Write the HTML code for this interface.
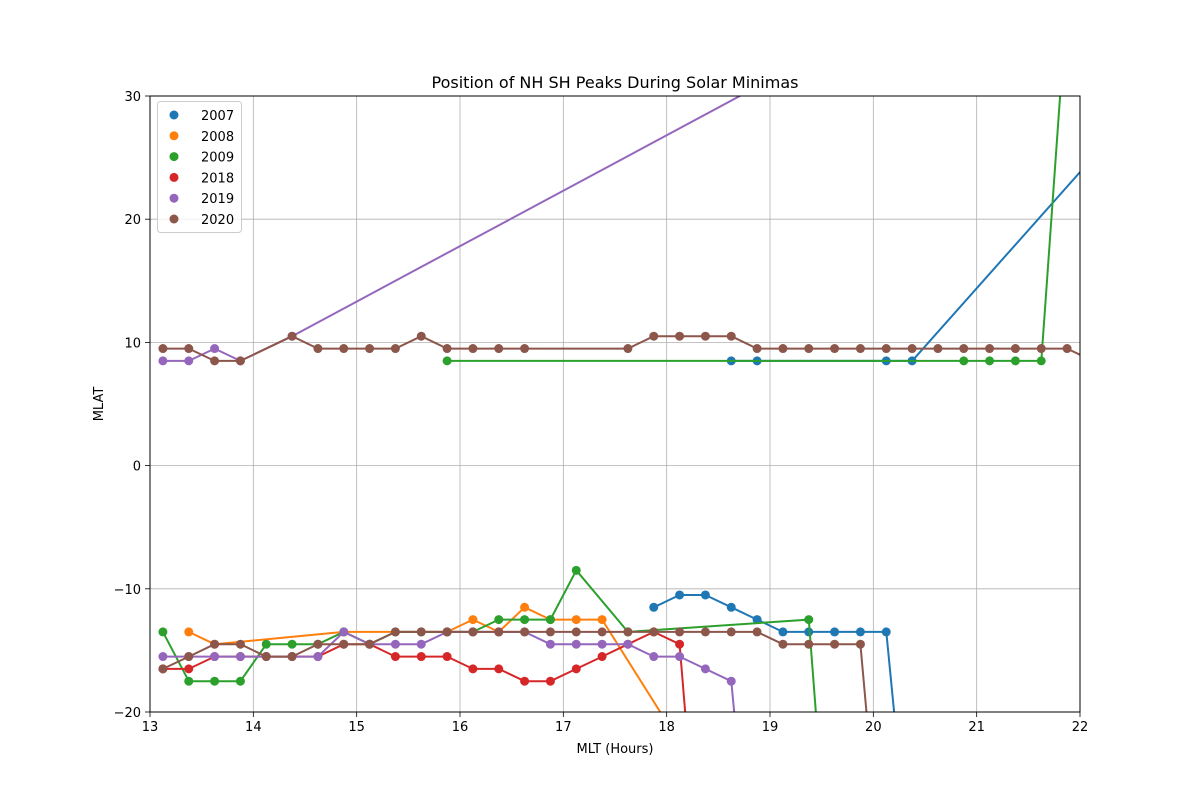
<!DOCTYPE html>
<html><head><meta charset="utf-8"><style>
html,body{margin:0;padding:0;background:#fff;overflow:hidden;width:1200px;height:800px}
svg{display:block;position:absolute;left:0;top:0}
svg text{font-family:"DejaVu Sans","Liberation Sans",sans-serif}
</style></head><body>
<svg id="chart" width="1200" height="800" xmlns="http://www.w3.org/2000/svg">
<defs><clipPath id="clip"><rect x="150" y="96" width="930" height="616"/></clipPath></defs>
<rect width="1200" height="800" fill="#fff"/>
<g id="grid"></g>
<g id="series" clip-path="url(#clip)"></g>
<rect x="150" y="96" width="930" height="616" fill="none" stroke="#000" stroke-width="1"/>
<g id="ticks"></g>
<text x="615" y="88" text-anchor="middle" font-size="16">Position of NH SH Peaks During Solar Minimas</text>
<text x="615" y="753" text-anchor="middle" font-size="13">MLT (Hours)</text>
<text x="103" y="404" text-anchor="middle" font-size="13" transform="rotate(-90 103 404)">MLAT</text>
<g id="legend"></g>
</svg>
<script>
const years = ["2007","2008","2009","2018","2019","2020"];
const colors = ["#1f77b4","#ff7f0e","#2ca02c","#d62728","#9467bd","#8c564b"];
const xTicks = [13,14,15,16,17,18,19,20,21,22];
const yTicks = [-20,-10,0,10,20,30];
// index i -> MLT = 13.125 + 0.25*i
const nh2007_i = [22,23,28,29,36];
const nh2007_v = [8.5,8.5,8.5,8.5,25];
const sh2007_i = [19,20,21,22,23,24,25,26,27,28,29];
const sh2007_v = [-11.5,-10.5,-10.5,-11.5,-12.5,-13.5,-13.5,-13.5,-13.5,-13.5,-35];
const nh2008_i = [];
const nh2008_v = [];
const sh2008_i = [1,2,7,11,12,13,14,15,16,17,20];
const sh2008_v = [-13.5,-14.5,-13.5,-13.5,-12.5,-13.5,-11.5,-12.5,-12.5,-12.5,-22.5];
const nh2009_i = [11,31,32,33,34,35];
const nh2009_v = [8.5,8.5,8.5,8.5,8.5,38];
const sh2009_i = [0,1,2,3,4,5,6,7,8,9,10,11,12,13,14,15,16,18,25,26];
const sh2009_v = [-13.5,-17.5,-17.5,-17.5,-14.5,-14.5,-14.5,-13.5,-14.5,-13.5,-13.5,-13.5,-13.5,-12.5,-12.5,-12.5,-8.5,-13.5,-12.5,-40];
const nh2018_i = [];
const nh2018_v = [];
const sh2018_i = [0,1,2,3,4,5,6,7,8,9,10,11,12,13,14,15,16,17,18,19,20,21];
const sh2018_v = [-16.5,-16.5,-15.5,-15.5,-15.5,-15.5,-15.5,-14.5,-14.5,-15.5,-15.5,-15.5,-16.5,-16.5,-17.5,-17.5,-16.5,-15.5,-14.5,-13.5,-14.5,-40];
const nh2019_i = [0,1,2,3,5,25];
const nh2019_v = [8.5,8.5,9.5,8.5,10.5,33];
const sh2019_i = [0,1,2,3,4,5,6,7,8,9,10,11,12,13,14,15,16,17,18,19,20,21,22,23];
const sh2019_v = [-15.5,-15.5,-15.5,-15.5,-15.5,-15.5,-15.5,-13.5,-14.5,-14.5,-14.5,-13.5,-13.5,-13.5,-13.5,-14.5,-14.5,-14.5,-14.5,-15.5,-15.5,-16.5,-17.5,-40];
const nh2020_i = [0,1,2,3,5,6,7,8,9,10,11,12,13,14,18,19,20,21,22,23,24,25,26,27,28,29,30,31,32,33,34,35,36];
const nh2020_v = [9.5,9.5,8.5,8.5,10.5,9.5,9.5,9.5,9.5,10.5,9.5,9.5,9.5,9.5,9.5,10.5,10.5,10.5,10.5,9.5,9.5,9.5,9.5,9.5,9.5,9.5,9.5,9.5,9.5,9.5,9.5,9.5,8.5];
const sh2020_i = [0,1,2,3,4,5,6,7,8,9,10,11,12,13,14,15,16,17,18,19,20,21,22,23,24,25,26,27,28];
const sh2020_v = [-16.5,-15.5,-14.5,-14.5,-15.5,-15.5,-14.5,-14.5,-14.5,-13.5,-13.5,-13.5,-13.5,-13.5,-13.5,-13.5,-13.5,-13.5,-13.5,-13.5,-13.5,-13.5,-13.5,-13.5,-14.5,-14.5,-14.5,-14.5,-38];

const NS="http://www.w3.org/2000/svg";
const X0=150,X1=1080,Y0=712,Y1=96;
function xs(v){return X0+(v-13)/(22-13)*(X1-X0);}
function ys(v){return Y0-(v+20)/(30+20)*(Y0-Y1);}
function mlt(i){return 13.125+0.25*i;}
function mk(tag,attrs,parent){const e=document.createElementNS(NS,tag);for(const k in attrs)e.setAttribute(k,attrs[k]);parent.appendChild(e);return e;}
const grid=document.getElementById('grid'),ticks=document.getElementById('ticks');
xTicks.forEach(t=>{
  const g=mk('line',{x1:xs(t),x2:xs(t),y1:Y1,y2:Y0,stroke:'#b0b0b0','stroke-width':0.8},grid);
  
  
  mk('line',{x1:xs(t),x2:xs(t),y1:Y0,y2:Y0+5,stroke:'#000','stroke-width':0.8},ticks);
  const tx=mk('text',{x:xs(t),y:Y0+19,'text-anchor':'middle','font-size':13},ticks);
  tx.textContent=t;
  
  
});
yTicks.forEach(t=>{
  const g=mk('line',{x1:X0,x2:X1,y1:ys(t),y2:ys(t),stroke:'#b0b0b0','stroke-width':0.8},grid);
  
  
  mk('line',{x1:X0-5,x2:X0,y1:ys(t),y2:ys(t),stroke:'#000','stroke-width':0.8},ticks);
  const tx=mk('text',{x:X0-9,y:ys(t)+5,'text-anchor':'end','font-size':13},ticks);
  tx.textContent=t===0?'0':(t<0?'\u2212'+(-t):t);
  
  
});
const seriesSets=[
 [nh2007_i,nh2007_v,sh2007_i,sh2007_v],[nh2008_i,nh2008_v,sh2008_i,sh2008_v],
 [nh2009_i,nh2009_v,sh2009_i,sh2009_v],[nh2018_i,nh2018_v,sh2018_i,sh2018_v],
 [nh2019_i,nh2019_v,sh2019_i,sh2019_v],[nh2020_i,nh2020_v,sh2020_i,sh2020_v]];
const sg=document.getElementById('series');
seriesSets.forEach((s,k)=>{
  const c=colors[k];
  [[s[0],s[1],'nh'],[s[2],s[3],'sh']].forEach(([idx,vals,h])=>{
    if(!idx.length)return;
    const pts=idx.map((ii,j)=>xs(mlt(ii)).toFixed(1)+','+ys(vals[j]).toFixed(1)).join(' ');
    const pl=mk('polyline',{points:pts,fill:'none',stroke:c,'stroke-width':2,'stroke-linejoin':'round'},sg);
    
    
    idx.forEach((ii,j)=>{
      const d=mk('circle',{cx:xs(mlt(ii)),cy:ys(vals[j]),r:4.5,fill:c},sg);
      
      
    });
  });
});
const lg=document.getElementById('legend');
const box=mk('rect',{x:157.5,y:101.5,width:84,height:131,rx:3,fill:'#fff','fill-opacity':0.8,stroke:'#ccc'},lg);


years.forEach((y,k)=>{
  const cy=115+k*20.8;
  const d=mk('circle',{cx:174,cy:cy,r:4.5,fill:colors[k]},lg);
  
  
  const t=mk('text',{x:201,y:cy+5,'font-size':13},lg);
  t.textContent=y;
  
  
});
</script>
</body></html>
